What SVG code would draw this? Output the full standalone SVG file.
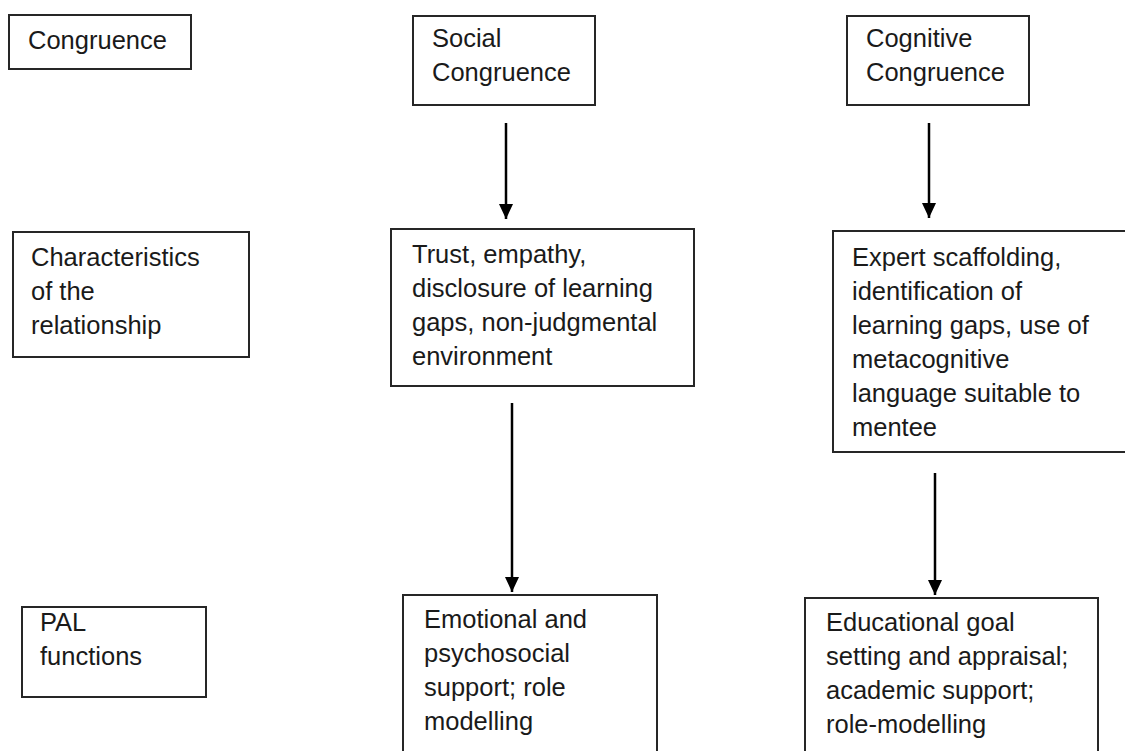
<svg xmlns="http://www.w3.org/2000/svg" width="1125" height="751" viewBox="0 0 1125 751">
  <style>
    .box { fill: #ffffff; stroke: #262626; stroke-width: 2; }
    .label { font-family: "Liberation Sans", Arial, sans-serif; font-size: 25.5px; fill: #1a1a1a; }
    .arrow { stroke: #000000; stroke-width: 2.5; fill: none; marker-end: url(#head); }
  </style>
  <defs>
    <!-- filled arrowhead, tip at the line end -->
    <marker id="head" markerUnits="userSpaceOnUse" markerWidth="16" markerHeight="14" refX="15" refY="7" orient="auto" viewBox="0 0 16 14">
      <path d="M0,0 L15,7 L0,14 Z" fill="#000000"/>
    </marker>
  </defs>
  <rect width="1125" height="751" fill="#ffffff"/>

  <!-- Row headings -->
  <g id="congruence">
    <rect class="box" x="9" y="15" width="182" height="54"/>
    <text class="label" x="28" y="49">Congruence</text>
  </g>
  <g id="characteristics">
    <rect class="box" x="13" y="232" width="236" height="125"/>
    <text class="label" x="31" y="266">Characteristics</text>
    <text class="label" x="31" y="300">of the</text>
    <text class="label" x="31" y="334">relationship</text>
  </g>
  <g id="pal-functions">
    <rect class="box" x="22" y="607" width="184" height="90"/>
    <text class="label" x="40" y="631">PAL</text>
    <text class="label" x="40" y="665">functions</text>
  </g>

  <!-- Social congruence column -->
  <g id="social">
    <rect class="box" x="413" y="16" width="182" height="89"/>
    <text class="label" x="432" y="47">Social</text>
    <text class="label" x="432" y="81">Congruence</text>
  </g>
  <g id="social-characteristics">
    <rect class="box" x="391" y="229" width="303" height="157"/>
    <text class="label" x="412" y="263">Trust, empathy,</text>
    <text class="label" x="412" y="297">disclosure of learning</text>
    <text class="label" x="412" y="331">gaps, non-judgmental</text>
    <text class="label" x="412" y="365">environment</text>
  </g>
  <g id="social-functions">
    <rect class="box" x="403" y="595" width="254" height="170"/>
    <text class="label" x="424" y="628">Emotional and</text>
    <text class="label" x="424" y="662">psychosocial</text>
    <text class="label" x="424" y="696">support; role</text>
    <text class="label" x="424" y="730">modelling</text>
  </g>

  <!-- Cognitive congruence column -->
  <g id="cognitive">
    <rect class="box" x="847" y="16" width="182" height="89"/>
    <text class="label" x="866" y="47">Cognitive</text>
    <text class="label" x="866" y="81">Congruence</text>
  </g>
  <g id="cognitive-characteristics">
    <rect class="box" x="833" y="231" width="300" height="221"/>
    <text class="label" x="852" y="266">Expert scaffolding,</text>
    <text class="label" x="852" y="300">identification of</text>
    <text class="label" x="852" y="334">learning gaps, use of</text>
    <text class="label" x="852" y="368">metacognitive</text>
    <text class="label" x="852" y="402">language suitable to</text>
    <text class="label" x="852" y="436">mentee</text>
  </g>
  <g id="cognitive-functions">
    <rect class="box" x="805" y="598" width="293" height="170"/>
    <text class="label" x="826" y="631">Educational goal</text>
    <text class="label" x="826" y="665">setting and appraisal;</text>
    <text class="label" x="826" y="699">academic support;</text>
    <text class="label" x="826" y="733">role-modelling</text>
  </g>

  <!-- Connectors -->
  <g id="connectors">
    <line class="arrow" x1="506" y1="123" x2="506" y2="219"/>
    <line class="arrow" x1="512" y1="403" x2="512" y2="592"/>
    <line class="arrow" x1="929" y1="123" x2="929" y2="218"/>
    <line class="arrow" x1="935" y1="473" x2="935" y2="595"/>
  </g>
</svg>
